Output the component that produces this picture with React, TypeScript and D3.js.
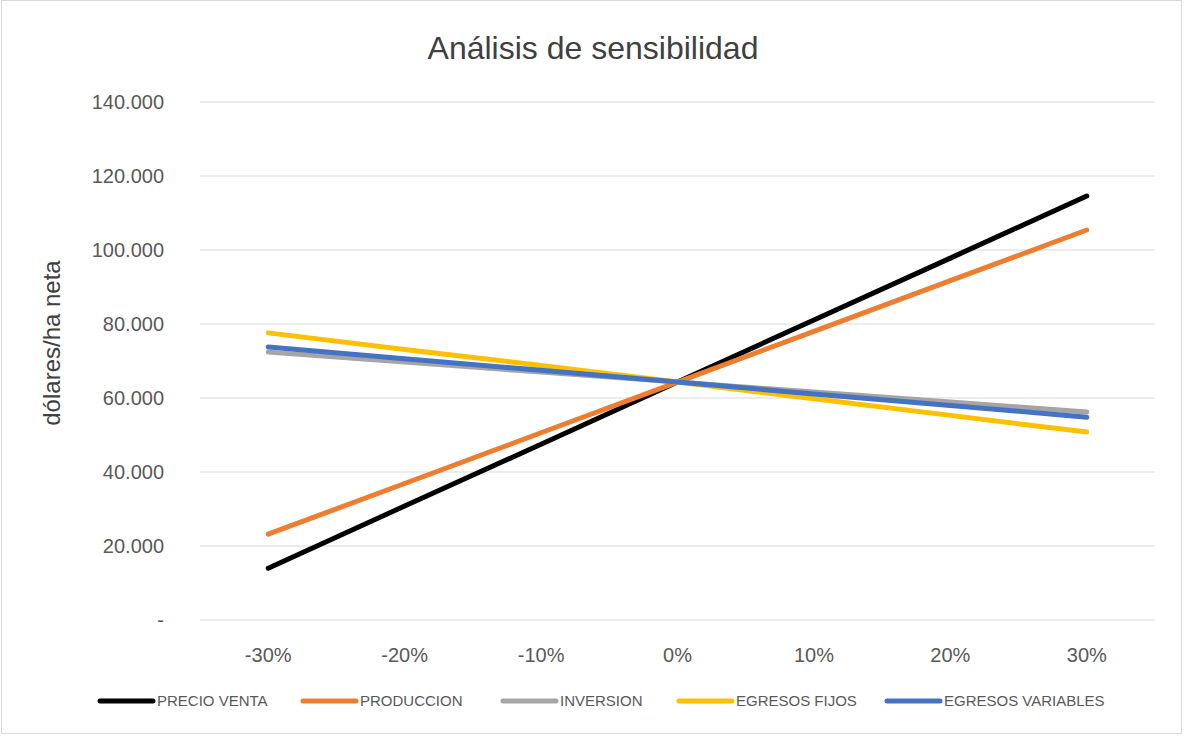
import React, { useEffect, useRef } from "react";
import * as d3 from "d3";

const categories = ["-30%", "-20%", "-10%", "0%", "10%", "20%", "30%"];
const precioVenta = [14000, 30800, 47500, 64300, 81100, 97800, 114600];
const produccion = [23200, 36900, 50600, 64300, 78000, 91700, 105400];
const inversion = [72400, 69700, 67000, 64300, 61600, 58900, 56200];
const egresosFijos = [77600, 73100, 68800, 64300, 59800, 55300, 50800];
const egresosVariables = [73800, 70600, 67500, 64300, 61100, 58000, 54800];
const yTicks = [0, 20000, 40000, 60000, 80000, 100000, 120000, 140000];

const series = [
  { name: "PRECIO VENTA", values: precioVenta, color: "#000000" },
  { name: "PRODUCCION", values: produccion, color: "#ED7D31" },
  { name: "INVERSION", values: inversion, color: "#A5A5A5" },
  { name: "EGRESOS FIJOS", values: egresosFijos, color: "#FFC000" },
  { name: "EGRESOS VARIABLES", values: egresosVariables, color: "#4472C4" },
];

const legendX = [100, 303, 503, 679, 887];

export default function App() {
  const ref = useRef<SVGSVGElement>(null);

  useEffect(() => {
    document.body.style.margin = "0";
    const W = 1184, H = 736;
    const margin = { top: 102, right: 29, bottom: 116, left: 200 };
    const svg = d3.select(ref.current);
    svg.selectAll("*").remove();
    const font = "'Liberation Sans', Arial, sans-serif";

    svg.append("rect")
      .attr("x", 1.5).attr("y", 0.5)
      .attr("width", W - 4).attr("height", H - 3)
      .attr("fill", "#fff").attr("stroke", "#d9d9d9");

    const x = d3.scaleBand()
      .domain(categories)
      .range([margin.left, W - margin.right]);
    const y = d3.scaleLinear()
      .domain([0, 140000])
      .range([H - margin.bottom, margin.top]);

    // grid
    svg.append("g")
      .selectAll("line")
      .data(yTicks)
      .join("line")
      .attr("x1", margin.left).attr("x2", W - margin.right)
      .attr("y1", d => y(d)).attr("y2", d => y(d))
      .attr("stroke", "#d9d9d9").attr("stroke-width", 1);

    // y labels
    svg.append("g")
      .selectAll("text")
      .data(yTicks)
      .join("text")
      .attr("x", 164)
      .attr("y", d => y(d))
      .attr("dy", "0.35em")
      .attr("text-anchor", "end")
      .attr("font-family", font)
      .attr("font-size", 20)
      .attr("fill", "#595959")
      .text(d => d === 0 ? "-" : d3.format(",")(d).replace(/,/g, "."));

    // x labels
    svg.append("g")
      .selectAll("text")
      .data(categories)
      .join("text")
      .attr("x", d => x(d)! + x.bandwidth() / 2)
      .attr("y", 662)
      .attr("text-anchor", "middle")
      .attr("font-family", font)
      .attr("font-size", 20)
      .attr("fill", "#595959")
      .text(d => d);

    // axis title
    svg.append("text")
      .attr("transform", `translate(60, 343) rotate(-90)`)
      .attr("text-anchor", "middle")
      .attr("font-family", font)
      .attr("font-size", 24)
      .attr("fill", "#404040")
      .text("dólares/ha neta");

    // title
    svg.append("text")
      .attr("x", 593).attr("y", 59)
      .attr("text-anchor", "middle")
      .attr("font-family", font)
      .attr("font-size", 32)
      .attr("fill", "#404040")
      .text("Análisis de sensibilidad");

    const line = d3.line<number>()
      .x((_, i) => x(categories[i])! + x.bandwidth() / 2)
      .y(d => y(d));

    svg.append("g")
      .selectAll("path")
      .data(series)
      .join("path")
      .attr("d", d => line(d.values))
      .attr("fill", "none")
      .attr("stroke", d => d.color)
      .attr("stroke-width", 5)
      .attr("stroke-linecap", "round");

    // legend
    const lg = svg.append("g")
      .selectAll("g")
      .data(series)
      .join("g")
      .attr("transform", (_, i) => `translate(${legendX[i]}, 701)`);
    lg.append("line")
      .attr("x1", 0).attr("x2", 53)
      .attr("stroke", d => d.color)
      .attr("stroke-width", 5)
      .attr("stroke-linecap", "round");
    lg.append("text")
      .attr("x", 57)
      .attr("dy", "0.35em")
      .attr("font-family", font)
      .attr("font-size", 15)
      .attr("fill", "#595959")
      .text(d => d.name);
  }, []);

  return <svg ref={ref} width={1184} height={736} style={{ display: "block" }} />;
}
